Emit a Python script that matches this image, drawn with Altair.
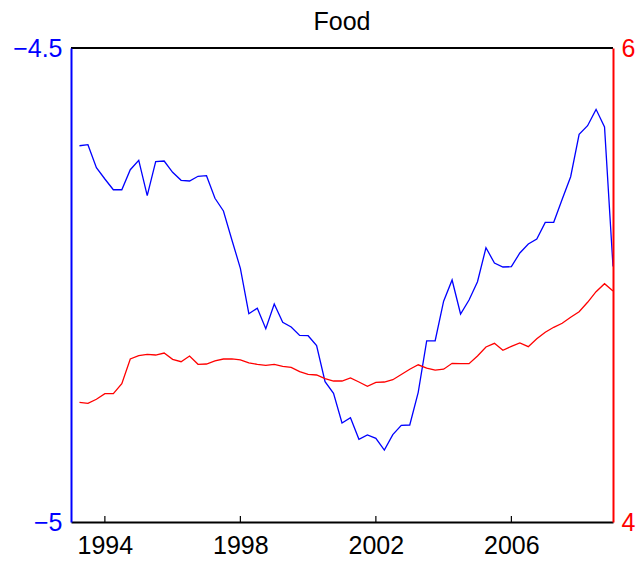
import altair as alt
import pandas as pd

# quarterly time stamps 1993Q1 .. 2008Q4 (plotted at quarter end)
years = list(range(1993, 2009))
quarter_offsets = [0.25, 0.5, 0.75, 1.0]
t = [y + q for y in years for q in quarter_offsets]

blue = [-4.6031, -4.6020, -4.6263, -4.6382, -4.6495, -4.6495, -4.6284, -4.6185,
        -4.6558, -4.6199, -4.6192, -4.6311, -4.6396, -4.6403, -4.6353, -4.6347,
        -4.6585, -4.6719, -4.7025, -4.7324, -4.7803, -4.7745, -4.7961, -4.7700,
        -4.7893, -4.7943, -4.8031, -4.8035, -4.8140, -4.8520, -4.8642, -4.8956,
        -4.8900, -4.9128, -4.9082, -4.9117, -4.9241, -4.9079, -4.8980, -4.8977,
        -4.8632, -4.8089, -4.8088, -4.7671, -4.7447, -4.7806, -4.7658, -4.7465,
        -4.7107, -4.7268, -4.7310, -4.7307, -4.7162, -4.7068, -4.7015, -4.6839,
        -4.6839, -4.6596, -4.6358, -4.5910, -4.5820, -4.5647, -4.5833, -4.7305]

red = [4.5051, 4.5008, 4.5177, 4.5414, 4.5414, 4.5835, 4.6878, 4.7017,
       4.7076, 4.7046, 4.7131, 4.6865, 4.6764, 4.7004, 4.6654, 4.6667,
       4.6802, 4.6878, 4.6886, 4.6844, 4.6717, 4.6654, 4.6612, 4.6654,
       4.6570, 4.6527, 4.6342, 4.6232, 4.6203, 4.6046, 4.5949, 4.5949,
       4.6076, 4.5907, 4.5726, 4.5895, 4.5907, 4.6004, 4.6224, 4.6447,
       4.6633, 4.6489, 4.6405, 4.6447, 4.6696, 4.6679, 4.6679, 4.7004,
       4.7384, 4.7540, 4.7245, 4.7414, 4.7553, 4.7397, 4.7734, 4.8004,
       4.8215, 4.8384, 4.8637, 4.8873, 4.9270, 4.9717, 5.0055, 4.9747]

x_ticks = [1994, 1998, 2002, 2006]
left_ticks = [-5, -4.5]
right_ticks = [4, 6]

FONT = "Liberation Sans"
W, H = 542, 474

df = pd.DataFrame({"t": t, "blue": blue, "red": red})
tick_df = pd.DataFrame({"t": x_ticks})

xscale = alt.Scale(domain=[1993, 2009], nice=False, zero=False)
xaxis = alt.Axis(values=x_ticks, format="d", title=None, ticks=False, grid=False,
                 domainColor="black", domainWidth=2, labelColor="black",
                 labelFont=FONT, labelFontSize=25, labelPadding=11,
                 labelFlush=False, zindex=1)

base = alt.Chart(df).encode(x=alt.X("t:Q", scale=xscale, axis=xaxis))

blue_line = base.mark_line(color="#0000ff", strokeWidth=1.3).encode(
    y=alt.Y("blue:Q",
            scale=alt.Scale(domain=[-5, -4.5], nice=False, zero=False),
            axis=alt.Axis(orient="left", values=left_ticks, format="~g",
                          title=None, ticks=False, grid=False,
                          domainColor="#0000ff", domainWidth=2,
                          labelColor="#0000ff", labelFont=FONT,
                          labelFontSize=25, labelPadding=9, labelFlush=False,
                          zindex=1))
)

red_line = base.mark_line(color="#ff0000", strokeWidth=1.3).encode(
    y=alt.Y("red:Q",
            scale=alt.Scale(domain=[4, 6], nice=False, zero=False),
            axis=alt.Axis(orient="right", values=right_ticks, format="d",
                          title=None, ticks=False, grid=False,
                          domainColor="#ff0000", domainWidth=2,
                          labelColor="#ff0000", labelFont=FONT,
                          labelFontSize=25, labelPadding=8, labelFlush=False,
                          zindex=1))
)

xtick_marks = alt.Chart(tick_df).mark_rule(color="black", strokeWidth=1.2).encode(
    x=alt.X("t:Q", scale=xscale),
    y=alt.value(H), y2=alt.value(H - 6)
)

top_border = alt.Chart(tick_df).mark_rule(color="black", strokeWidth=1.5).encode(
    x=alt.value(0), x2=alt.value(W), y=alt.value(0)
)

chart = alt.layer(blue_line, red_line, xtick_marks, top_border).resolve_scale(
    y="independent"
).properties(
    width=W, height=H,
    title=alt.TitleParams("Food", font=FONT, fontSize=25, fontWeight="normal",
                          color="black", anchor="middle", offset=1),
    padding={"left": 63, "top": 40, "right": 22, "bottom": 38},
    autosize=alt.AutoSizeParams(type="none"),
).configure_view(stroke=None)

chart.save("out.html", embed_options={"renderer": "svg", "actions": False})
